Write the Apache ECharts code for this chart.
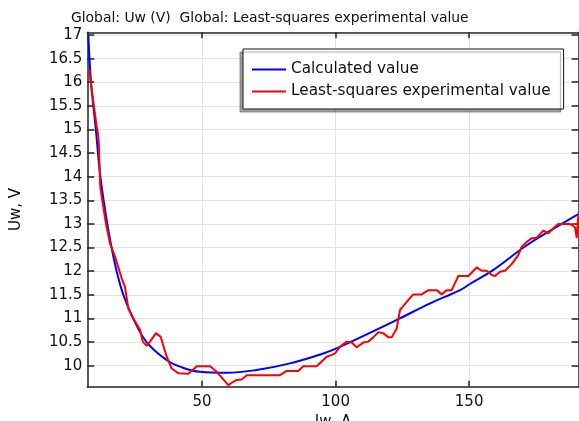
<!DOCTYPE html>
<html>
<head>
<meta charset="utf-8">
<script src="https://cdn.jsdelivr.net/npm/echarts@6/dist/echarts.min.js"></script>
<style>
html,body{margin:0;padding:0;background:#fff;}
#chart{width:579px;height:421px;}
</style>
</head>
<body>
<div id="chart"></div>
<script>
// Calculated value (blue)
const calcX = [7.4, 8.4, 10.2, 11.9, 14.5, 16.1, 18.0, 20.5, 24.2, 29.2, 36.7, 41.7, 49.2, 59.2, 70.4, 82.9, 95.4, 101.6, 122.9, 135.4, 146.6, 150.3, 159.1, 171.6, 184.0, 190.9];
const calcY = [17.0, 16.0, 15.0, 14.0, 13.0, 12.5, 12.0, 11.5, 11.0, 10.5, 10.12, 9.98, 9.87, 9.85, 9.91, 10.05, 10.26, 10.40, 10.97, 11.32, 11.60, 11.73, 12.03, 12.55, 12.98, 13.21];

// Least-squares experimental value (red)
const expX = [7.64, 8.27, 9.51, 10.52, 11.0, 11.3, 11.85, 12.6, 14.0, 15.5, 17.37, 19.88, 21.12, 22.36, 24.23, 26.74, 27.75, 29.25, 30.48, 32.73, 34.49, 36.74, 38.61, 41.08, 44.83, 45.5, 48.0, 53.0, 55.46, 59.81, 61.68, 62.96, 64.83, 66.7, 79.17, 81.68, 86.03, 87.9, 92.92, 96.66, 98.53, 99.77, 101.64, 104.15, 106.02, 107.9, 110.37, 112.24, 114.12, 115.99, 117.86, 119.73, 121.0, 122.88, 124.12, 126.63, 129.1, 132.24, 134.71, 137.86, 139.73, 141.61, 143.48, 145.95, 149.7, 152.84, 154.71, 156.59, 158.46, 159.7, 161.57, 163.45, 165.95, 168.42, 169.7, 171.57, 173.44, 175.31, 177.79, 179.66, 181.53, 183.4, 187.79, 189.66, 190.3, 190.9];
const expY = [16.28, 16.0, 15.48, 15.06, 14.92, 14.72, 13.79, 13.5, 13.0, 12.59, 12.31, 11.85, 11.67, 11.21, 11.0, 10.76, 10.51, 10.42, 10.51, 10.69, 10.61, 10.19, 9.94, 9.84, 9.83, 9.84, 9.99, 9.99, 9.87, 9.59, 9.66, 9.70, 9.71, 9.80, 9.80, 9.89, 9.89, 9.99, 9.99, 10.19, 10.23, 10.26, 10.40, 10.51, 10.49, 10.39, 10.49, 10.51, 10.60, 10.71, 10.69, 10.60, 10.60, 10.79, 11.18, 11.35, 11.51, 11.51, 11.60, 11.60, 11.51, 11.60, 11.60, 11.90, 11.90, 12.08, 12.01, 12.01, 11.92, 11.90, 11.99, 12.01, 12.15, 12.34, 12.52, 12.62, 12.70, 12.71, 12.86, 12.80, 12.91, 13.00, 13.00, 12.93, 12.70, 13.19];

const xTicks = [50, 100, 150];
const yTicks = [10, 10.5, 11, 11.5, 12, 12.5, 13, 13.5, 14, 14.5, 15, 15.5, 16, 16.5, 17];
const yTickLabels = ['10', '10.5', '11', '11.5', '12', '12.5', '13', '13.5', '14', '14.5', '15', '15.5', '16', '16.5', '17'];

const titleText = 'Global: Uw (V)  Global: Least-squares experimental value';
const seriesNames = ['Calculated value', 'Least-squares experimental value'];

const zip = (xs, ys) => xs.map((x, i) => [x, ys[i]]);

const FONT = 'DejaVu Sans';
const AX = '#222';
const chart = echarts.init(document.getElementById('chart'), null, {renderer: 'canvas'});

const axisCommonX = {type: 'value', min: 7, max: 191, gridIndex: 0};
const axisCommonY = {type: 'value', min: 9.556, max: 17.057, gridIndex: 0};

chart.setOption({
  animation: false,
  backgroundColor: '#fff',
  textStyle: {fontFamily: FONT},
  title: {
    text: titleText, left: 66, top: 6,
    textStyle: {fontFamily: FONT, fontSize: 13.9, fontWeight: 'normal', color: '#111'}
  },
  grid: {left: 87.3, top: 32.3, width: 491.3, height: 354.4, containLabel: false, outerBoundsMode: 'none'},
  legend: {
    orient: 'vertical', left: 243, top: 49,
    data: seriesNames.map(n => ({name: n, icon: 'rect'})),
    padding: [12, 13, 9, 9],
    itemWidth: 34, itemHeight: 2, itemGap: 5,
    textStyle: {fontFamily: FONT, fontSize: 15.3, color: '#111', lineHeight: 17},
    backgroundColor: '#fff', borderColor: '#111', borderWidth: 1, borderRadius: 0,
    shadowColor: 'rgba(0,0,0,0.35)', shadowBlur: 1, shadowOffsetX: -3, shadowOffsetY: 3
  },
  xAxis: [
    Object.assign({}, axisCommonX, {
      position: 'bottom',
      name: 'Iw, A', nameLocation: 'middle', nameGap: 21,
      nameTextStyle: {fontFamily: FONT, fontSize: 15, color: '#111'},
      axisLine: {show: true, onZero: false, lineStyle: {color: AX, width: 1.5}},
      axisTick: {show: true, inside: true, length: 6, customValues: xTicks, lineStyle: {color: AX, width: 1.5}},
      axisLabel: {show: true, customValues: xTicks, fontFamily: FONT, fontSize: 15, color: '#111', margin: 8},
      splitLine: {show: true, lineStyle: {color: '#e3e3e3', width: 1}}
    }),
    Object.assign({}, axisCommonX, {
      position: 'top',
      axisLine: {show: true, onZero: false, lineStyle: {color: AX, width: 1.5}},
      axisTick: {show: true, inside: true, length: 6, customValues: xTicks, lineStyle: {color: AX, width: 1.5}},
      axisLabel: {show: false},
      splitLine: {show: false}
    })
  ],
  yAxis: [
    Object.assign({}, axisCommonY, {
      position: 'left',
      name: 'Uw, V', nameLocation: 'middle', nameGap: 64,
      nameTextStyle: {fontFamily: FONT, fontSize: 15, color: '#111'},
      axisLine: {show: true, onZero: false, lineStyle: {color: AX, width: 1.5}},
      axisTick: {show: true, inside: true, length: 7, customValues: yTicks, lineStyle: {color: AX, width: 1.5}},
      axisLabel: {show: true, customValues: yTicks, fontFamily: FONT, fontSize: 15, color: '#111', margin: 5,
        formatter: v => { const i = yTicks.indexOf(v); return i >= 0 ? yTickLabels[i] : ''; }},
      splitLine: {show: true, lineStyle: {color: '#e3e3e3', width: 1}}
    }),
    Object.assign({}, axisCommonY, {
      position: 'right',
      axisLine: {show: true, onZero: false, lineStyle: {color: AX, width: 1.5}},
      axisTick: {show: true, inside: true, length: 7, customValues: yTicks, lineStyle: {color: AX, width: 1.5}},
      axisLabel: {show: false},
      splitLine: {show: false}
    })
  ],
  series: [
    {
      name: seriesNames[0], type: 'line', xAxisIndex: 0, yAxisIndex: 0,
      data: zip(calcX, calcY), symbol: 'none', showSymbol: false, smooth: 0.4,
      lineStyle: {color: '#0000ff', width: 2}, itemStyle: {color: '#0000ff'}, z: 2
    },
    {
      name: seriesNames[1], type: 'line', xAxisIndex: 0, yAxisIndex: 0,
      data: zip(expX, expY), symbol: 'none', showSymbol: false,
      lineStyle: {color: '#ff0000', width: 2}, itemStyle: {color: '#ff0000'}, z: 3
    }
  ]
});
</script>
</body>
</html>
